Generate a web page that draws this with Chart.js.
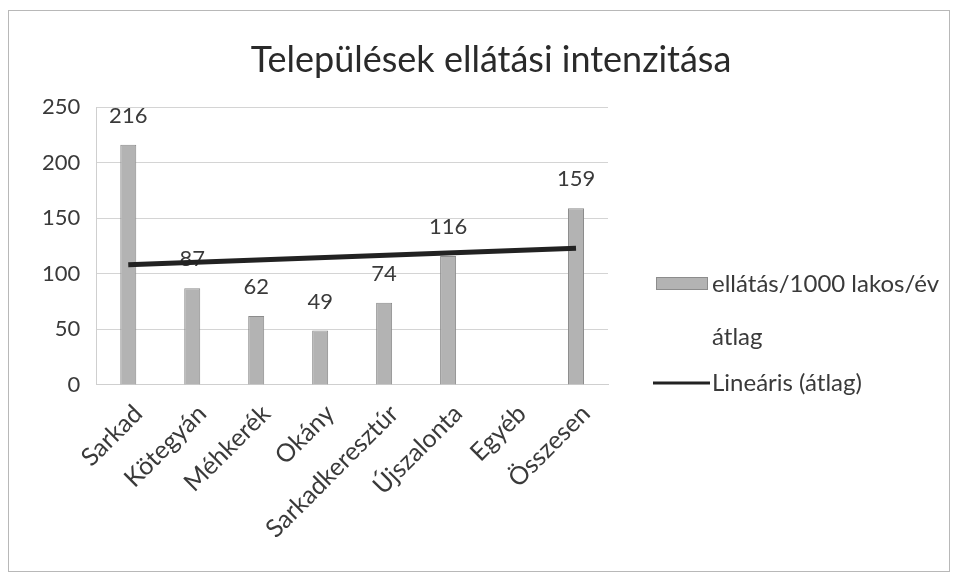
<!DOCTYPE html>
<html lang="hu">
<head>
<meta charset="utf-8">
<title>Települések ellátási intenzitása</title>
<script src="https://cdn.jsdelivr.net/npm/chart.js@4/dist/chart.umd.min.js"></script>
<style>
  html, body { margin: 0; padding: 0; background: #fff; }
  #wrap { position: relative; width: 961px; height: 583px; }
  #frame { position: absolute; left: 8px; top: 10px; width: 942px; height: 562px; border: 1px solid #b8b8b8; box-sizing: border-box; pointer-events: none; }
  canvas { position: absolute; left: 0; top: 0; }
</style>
</head>
<body>
<div id="wrap">
  <canvas id="chart" width="961" height="583"></canvas>
  <div id="frame"></div>
</div>
<script>
// data
const categories = ['Sarkad', 'Kötegyán', 'Méhkerék', 'Okány', 'Sarkadkeresztúr', 'Újszalonta', 'Egyéb', 'Összesen'];
const intensity = [216, 87, 62, 49, 74, 116, null, 159];
// trend line: only its two ends, the line spans between them
const trendEnds = [108, null, null, null, null, null, null, 123];
const yTicks = [0, 50, 100, 150, 200, 250];

const titleText = 'Települések ellátási intenzitása';
const barLabel = ['ellátás/1000 lakos/év', 'átlag'];
const trendLabel = 'Lineáris (átlag)';

const FONT = 'Lato, "Open Sans", sans-serif';
const TEXT = '#3a3a3a';

// value labels above the bars, drawn before the trend line
const valueLabels = {
  id: 'valueLabels',
  afterDatasetDraw(chart, args) {
    if (args.index !== 0) return;
    const ctx = chart.ctx;
    const meta = chart.getDatasetMeta(0);
    ctx.save();
    ctx.font = '22px ' + FONT;
    ctx.fillStyle = TEXT;
    ctx.textAlign = 'center';
    ctx.textBaseline = 'middle';
    meta.data.forEach((bar, i) => {
      const v = intensity[i];
      if (v == null) return;
      ctx.fillText(String(v), bar.x, bar.y - 29);
    });
    ctx.restore();
  }
};

// title centred on the whole picture, legend on the right
const decorations = {
  id: 'decorations',
  afterDraw(chart) {
    const ctx = chart.ctx;
    ctx.save();
    ctx.font = '36px ' + FONT;
    ctx.fillStyle = '#2a2a2a';
    ctx.textAlign = 'center';
    ctx.textBaseline = 'middle';
    ctx.fillText(titleText, 491, 60);

    const x0 = chart.chartArea.right + 45;
    const tx = x0 + 59;
    ctx.font = '24px ' + FONT;
    ctx.textAlign = 'left';
    // bar swatch
    ctx.fillStyle = '#b3b3b3';
    ctx.fillRect(x0 + 3, 277, 52, 13);
    ctx.strokeStyle = '#8c8c8c';
    ctx.lineWidth = 1;
    ctx.strokeRect(x0 + 3.5, 277.5, 51, 12);
    ctx.fillStyle = TEXT;
    ctx.fillText(barLabel[0], tx, 284);
    ctx.fillText(barLabel[1], tx, 337);
    // trend swatch
    ctx.strokeStyle = '#222';
    ctx.lineWidth = 3;
    ctx.beginPath();
    ctx.moveTo(x0, 383);
    ctx.lineTo(x0 + 57, 383);
    ctx.stroke();
    ctx.fillText(trendLabel, tx, 383);
    ctx.restore();
  }
};

new Chart(document.getElementById('chart'), {
  type: 'bar',
  data: {
    labels: categories,
    datasets: [
      {
        label: barLabel.join(' '),
        data: intensity,
        backgroundColor: '#b3b3b3',
        borderColor: '#8c8c8c',
        borderWidth: 1,
        barPercentage: 0.25,
        categoryPercentage: 1,
        order: 2
      },
      {
        type: 'line',
        label: trendLabel,
        data: trendEnds,
        borderColor: '#222',
        borderWidth: 5,
        pointRadius: 0,
        spanGaps: true,
        fill: false,
        order: 1
      }
    ]
  },
  options: {
    responsive: false,
    animation: false,
    layout: { padding: { left: 26, right: 353, top: 107, bottom: 33 } },
    scales: {
      x: {
        grid: { display: false },
        border: { color: '#cfcfcf' },
        ticks: {
          color: TEXT,
          font: { family: FONT, size: 25 },
          maxRotation: 45,
          minRotation: 45,
          padding: 6,
          labelOffset: 10
        }
      },
      y: {
        min: 0,
        max: 250,
        afterBuildTicks: axis => { axis.ticks = yTicks.map(v => ({ value: v })); },
        grid: { color: '#d4d4d4', drawTicks: false },
        border: { color: '#cfcfcf' },
        ticks: {
          color: TEXT,
          font: { family: FONT, size: 22 },
          padding: 16
        }
      }
    },
    plugins: {
      legend: { display: false },
      tooltip: { enabled: false },
      title: { display: false }
    }
  },
  plugins: [valueLabels, decorations]
});
</script>
</body>
</html>
